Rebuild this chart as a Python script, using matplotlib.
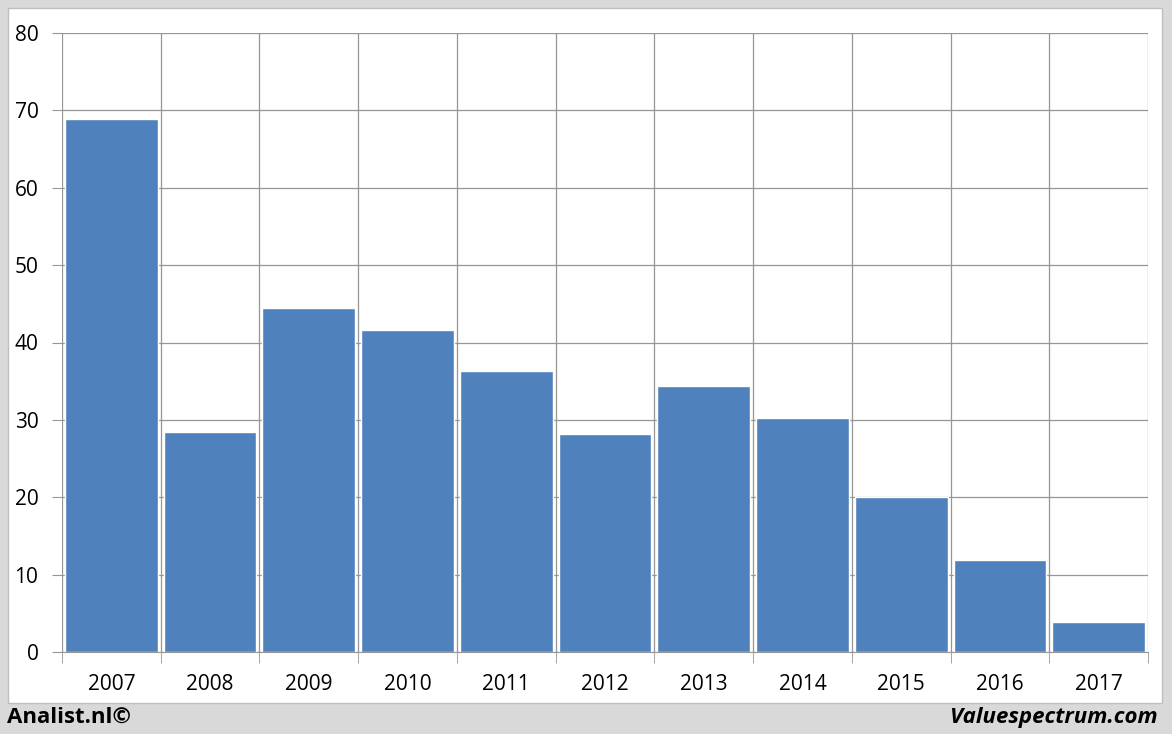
import numpy as np
import matplotlib.pyplot as plt
from matplotlib.patches import Rectangle

years = ['2007', '2008', '2009', '2010', '2011', '2012', '2013', '2014', '2015', '2016', '2017']
values = [68.9, 28.4, 44.4, 41.6, 36.3, 28.2, 34.4, 30.2, 20.0, 11.9, 3.9]
yticks = [0, 10, 20, 30, 40, 50, 60, 70, 80]

W, H = 1172, 734
fig = plt.figure(figsize=(W / 100, H / 100), dpi=100)
fig.patch.set_facecolor('#d9d9d9')

# white inner panel, behind the axes
fig.patches.append(Rectangle((8 / W, 1 - 703 / H), (1162 - 8) / W, (703 - 8) / H,
                             transform=fig.transFigure, facecolor='white',
                             edgecolor='#bfbfbf', linewidth=1, zorder=-10))

ax = fig.add_axes([62 / W, 1 - 652 / H, (1148 - 62) / W, (652 - 33) / H])
ax.set_facecolor('none')
ax.set_zorder(1)

x = np.arange(len(years))
ax.bar(x, values, width=0.94, color='#4f81bd', edgecolor='white', linewidth=1.0, zorder=3)

ax.set_xlim(-0.5, len(years) - 0.5)
ax.set_ylim(0, 80)
ax.set_yticks(yticks)
ax.set_yticklabels([str(v) for v in yticks], fontsize=15, fontfamily='Open Sans')
ax.set_xticks(x)
ax.set_xticklabels(years, fontsize=15, fontfamily='Open Sans')
ax.tick_params(axis='x', length=0, pad=16)
ax.tick_params(axis='y', length=7, color='#969696', pad=10)

# category boundary grid + ticks
bounds = np.arange(-0.5, len(years), 1.0)
ax.set_xticks(bounds, minor=True)
ax.tick_params(axis='x', which='minor', length=8, color='#969696', direction='out')
for b in bounds:
    ax.axvline(b, color='#969696', linewidth=0.9, zorder=1)
ax.yaxis.grid(True, color='#969696', linewidth=0.9, zorder=1)
ax.set_axisbelow(True)

for side in ['top', 'right', 'left']:
    ax.spines[side].set_visible(False)
ax.spines['bottom'].set_color('#969696')
ax.spines['bottom'].set_zorder(4)

fig.text(7 / W, 1 - 717 / H, 'Analist.nl©', fontsize=16, fontweight='bold',
         fontfamily='Open Sans', va='center', ha='left')
fig.text(1158 / W, 1 - 717 / H, 'Valuespectrum.com', fontsize=16, fontweight='bold',
         fontstyle='italic', fontfamily='Open Sans', va='center', ha='right')

fig.savefig('out.png', dpi=100, facecolor=fig.get_facecolor())
